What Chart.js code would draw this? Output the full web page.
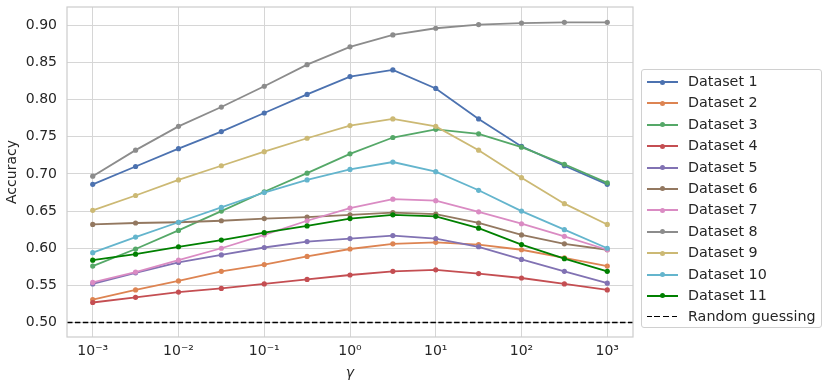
<!DOCTYPE html>
<html>
<head>
<meta charset="utf-8">
<script src="https://cdn.jsdelivr.net/npm/chart.js@4/dist/chart.umd.min.js"></script>
<style>
  html, body { margin:0; padding:0; background:#fff; }
  #wrap { position:relative; width:831px; height:387px; font-family:"DejaVu Sans", sans-serif; }
  canvas { position:absolute; left:0; top:0; }
  #legend { position:absolute; left:641px; top:69px; width:181px; height:259px; border:1px solid #d0d0d0; border-radius:3px; background:rgba(255,255,255,0.85); box-sizing:border-box; padding-top:1px; }
  .row { position:relative; height:21.4px; }
  .sample { position:absolute; left:5px; top:10px; width:31px; height:0; }
  .dot { position:absolute; left:13px; top:-2.5px; width:5px; height:5px; border-radius:50%; }
  .lbl { position:absolute; left:46px; top:0; line-height:21.4px; font-size:14.3px; color:#262626; white-space:nowrap; }
</style>
</head>
<body>
<div id="wrap">
  <canvas id="c" width="831" height="387"></canvas>
  <div id="legend"></div>
</div>
<script>
const gamma = [0.001, 0.00316, 0.01, 0.0316, 0.1, 0.316, 1, 3.16, 10, 31.6, 100, 316, 1000];
const seriesNames = ["Dataset 1","Dataset 2","Dataset 3","Dataset 4","Dataset 5","Dataset 6","Dataset 7","Dataset 8","Dataset 9","Dataset 10","Dataset 11"];
const d1  = [0.686, 0.710, 0.734, 0.757, 0.782, 0.807, 0.831, 0.840, 0.815, 0.774, 0.737, 0.711, 0.686];
const d2  = [0.531, 0.544, 0.556, 0.569, 0.578, 0.589, 0.599, 0.606, 0.608, 0.605, 0.598, 0.587, 0.576];
const d3  = [0.576, 0.599, 0.624, 0.650, 0.676, 0.701, 0.727, 0.749, 0.760, 0.754, 0.736, 0.713, 0.688];
const d4  = [0.527, 0.534, 0.541, 0.546, 0.552, 0.558, 0.564, 0.569, 0.571, 0.566, 0.560, 0.552, 0.544];
const d5  = [0.552, 0.567, 0.581, 0.591, 0.601, 0.609, 0.613, 0.617, 0.613, 0.602, 0.585, 0.569, 0.553];
const d6  = [0.632, 0.634, 0.635, 0.637, 0.640, 0.642, 0.645, 0.648, 0.646, 0.634, 0.618, 0.606, 0.598];
const d7  = [0.554, 0.568, 0.584, 0.600, 0.618, 0.637, 0.654, 0.666, 0.664, 0.649, 0.633, 0.616, 0.598];
const d8  = [0.697, 0.732, 0.764, 0.790, 0.818, 0.847, 0.871, 0.887, 0.896, 0.901, 0.903, 0.904, 0.904];
const d9  = [0.651, 0.671, 0.692, 0.711, 0.730, 0.748, 0.765, 0.774, 0.764, 0.732, 0.695, 0.660, 0.632];
const d10 = [0.594, 0.615, 0.635, 0.655, 0.675, 0.692, 0.706, 0.716, 0.703, 0.678, 0.650, 0.625, 0.600];
const d11 = [0.584, 0.592, 0.602, 0.611, 0.621, 0.630, 0.640, 0.645, 0.643, 0.627, 0.605, 0.586, 0.569];
const randomGuess = 0.5;
const xTickValues = [0.001, 0.01, 0.1, 1, 10, 100, 1000];
const xTickLabels = ["10\u207B\u00B3", "10\u207B\u00B2", "10\u207B\u00B9", "10\u2070", "10\u00B9", "10\u00B2", "10\u00B3"];
const yTickValues = [0.50, 0.55, 0.60, 0.65, 0.70, 0.75, 0.80, 0.85, 0.90];

const allSeries = [d1,d2,d3,d4,d5,d6,d7,d8,d9,d10,d11];
const colors = ["#4C72B0","#DD8452","#55A868","#C44E52","#8172B3","#937860","#DA8BC3","#8C8C8C","#CCB974","#64B5CD","#008000"];

const xMin = Math.pow(10, -3.3), xMax = Math.pow(10, 3.3);

const datasets = allSeries.map((s, i) => ({
  label: seriesNames[i],
  data: s.map((v, j) => ({ x: gamma[j], y: v })),
  borderColor: colors[i],
  backgroundColor: colors[i],
  borderWidth: 1.8,
  pointRadius: 2.6,
  pointHoverRadius: 2.6,
  pointBorderWidth: 0,
  tension: 0,
  order: 20 - i
}));
datasets.push({
  label: "Random guessing",
  data: [{ x: xMin, y: randomGuess }, { x: xMax, y: randomGuess }],
  borderColor: "#000",
  borderWidth: 1.5,
  borderDash: [5.5, 2.4],
  pointRadius: 0,
  order: 0
});

const frame = {
  id: 'frame',
  afterDraw(chart) {
    const a = chart.chartArea, ctx = chart.ctx;
    ctx.save();
    ctx.strokeStyle = '#cccccc';
    ctx.lineWidth = 1.2;
    ctx.strokeRect(a.left, a.top, a.right - a.left, a.bottom - a.top);
    ctx.restore();
  }
};

new Chart(document.getElementById('c'), {
  type: 'line',
  data: { datasets },
  plugins: [frame],
  options: {
    responsive: false,
    animation: false,
    layout: { padding: { left: 0, right: 198, top: 7, bottom: 0 } },
    plugins: { legend: { display: false }, tooltip: { enabled: false } },
    scales: {
      x: {
        type: 'logarithmic',
        min: xMin, max: xMax,
        afterBuildTicks(scale) { scale.ticks = xTickValues.map(v => ({ value: v })); },
        afterFit(scale) { scale.height = 50; scale.paddingLeft = 0; scale.paddingRight = 0; },
        ticks: {
          autoSkip: false, maxRotation: 0, padding: 6,
          color: '#262626',
          font: { family: 'DejaVu Sans', size: 14 },
          callback(v) { const k = xTickValues.indexOf(v); return k >= 0 ? xTickLabels[k] : ''; }
        },
        grid: { color: '#d6d6d6', lineWidth: 1, drawTicks: false },
        border: { display: false },
        title: { display: true, text: 'γ', color: '#262626', padding: { top: 0, bottom: 5 },
                 font: { family: 'DejaVu Sans', size: 14, style: 'italic' } }
      },
      y: {
        min: 0.4806, max: 0.9246,
        afterBuildTicks(scale) { scale.ticks = yTickValues.map(v => ({ value: v })); },
        afterFit(scale) { scale.width = 67; scale.paddingTop = 0; scale.paddingBottom = 0; },
        ticks: {
          padding: 10, color: '#262626',
          font: { family: 'DejaVu Sans', size: 14 },
          callback(v) { return Number(v).toFixed(2); }
        },
        grid: { color: '#d6d6d6', lineWidth: 1, drawTicks: false },
        border: { display: false },
        title: { display: true, text: 'Accuracy', color: '#262626', padding: { top: 4, bottom: 4 },
                 font: { family: 'DejaVu Sans', size: 14 } }
      }
    }
  }
});

// HTML legend built from the same datasets
const lg = document.getElementById('legend');
datasets.forEach(ds => {
  const row = document.createElement('div'); row.className = 'row';
  const s = document.createElement('div'); s.className = 'sample';
  if (ds.borderDash) {
    s.style.borderTop = '1.5px dashed #000';
    s.style.borderImage = 'repeating-linear-gradient(90deg,#000 0 5.5px,transparent 5.5px 8px) 1';
  } else {
    s.style.borderTop = '2px solid ' + ds.borderColor;
    const d = document.createElement('div'); d.className = 'dot'; d.style.background = ds.borderColor;
    d.style.top = '-3.5px';
    s.appendChild(d);
  }
  const t = document.createElement('div'); t.className = 'lbl'; t.textContent = ds.label;
  row.appendChild(s); row.appendChild(t); lg.appendChild(row);
});
</script>
</body>
</html>
